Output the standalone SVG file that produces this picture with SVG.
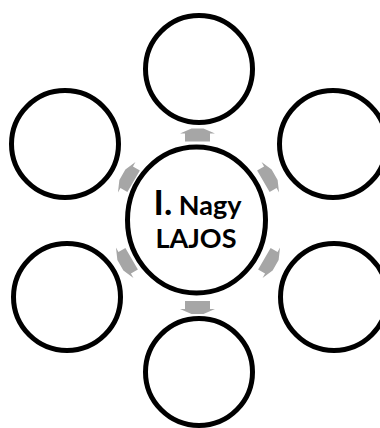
<svg xmlns="http://www.w3.org/2000/svg" width="380" height="428" viewBox="0 0 380 428">
<style>
.c{fill:#fff;stroke:#000;stroke-width:5}
.a{fill:#a6a6a6}
.t{font-family:Lato,"Liberation Sans",sans-serif;font-weight:bold;fill:#000;text-anchor:middle}
</style>
<defs>
<polygon id="arr" points="-6,-6.5 6,-6.5 17.5,-1.5 12.5,-1.5 12.5,6.5 -12.5,6.5 -12.5,-1.5 -17.5,-1.5"/>
</defs>
<rect width="380" height="428" fill="#fff"/>
<g id="connectors" class="a">
<use href="#arr" transform="translate(197.5,135)"/>
<use href="#arr" transform="translate(197.5,307.5) rotate(180)"/>
<use href="#arr" transform="translate(128,178) rotate(-60)"/>
<use href="#arr" transform="translate(269,178) rotate(60)"/>
<use href="#arr" transform="translate(126,262) rotate(-120)"/>
<use href="#arr" transform="translate(270,262) rotate(120)"/>
</g>
<g id="node-top"><circle class="c" cx="199" cy="69" r="53.5"/></g>
<g id="node-upper-left"><circle class="c" cx="65" cy="144" r="53.5"/></g>
<g id="node-upper-right"><circle class="c" cx="333" cy="144" r="53.5"/></g>
<g id="node-lower-left"><circle class="c" cx="67" cy="297" r="53.5"/></g>
<g id="node-lower-right"><circle class="c" cx="334" cy="297" r="53.5"/></g>
<g id="node-bottom"><circle class="c" cx="199" cy="372" r="53.5"/></g>
<g id="node-center">
<ellipse class="c" cx="196.5" cy="220" rx="69" ry="73"/>
<text class="t" x="197.5" y="215"><tspan font-size="35">I.</tspan><tspan font-size="27"> Nagy</tspan></text>
<text class="t" x="196" y="248" font-size="27">LAJOS</text>
</g>
</svg>
